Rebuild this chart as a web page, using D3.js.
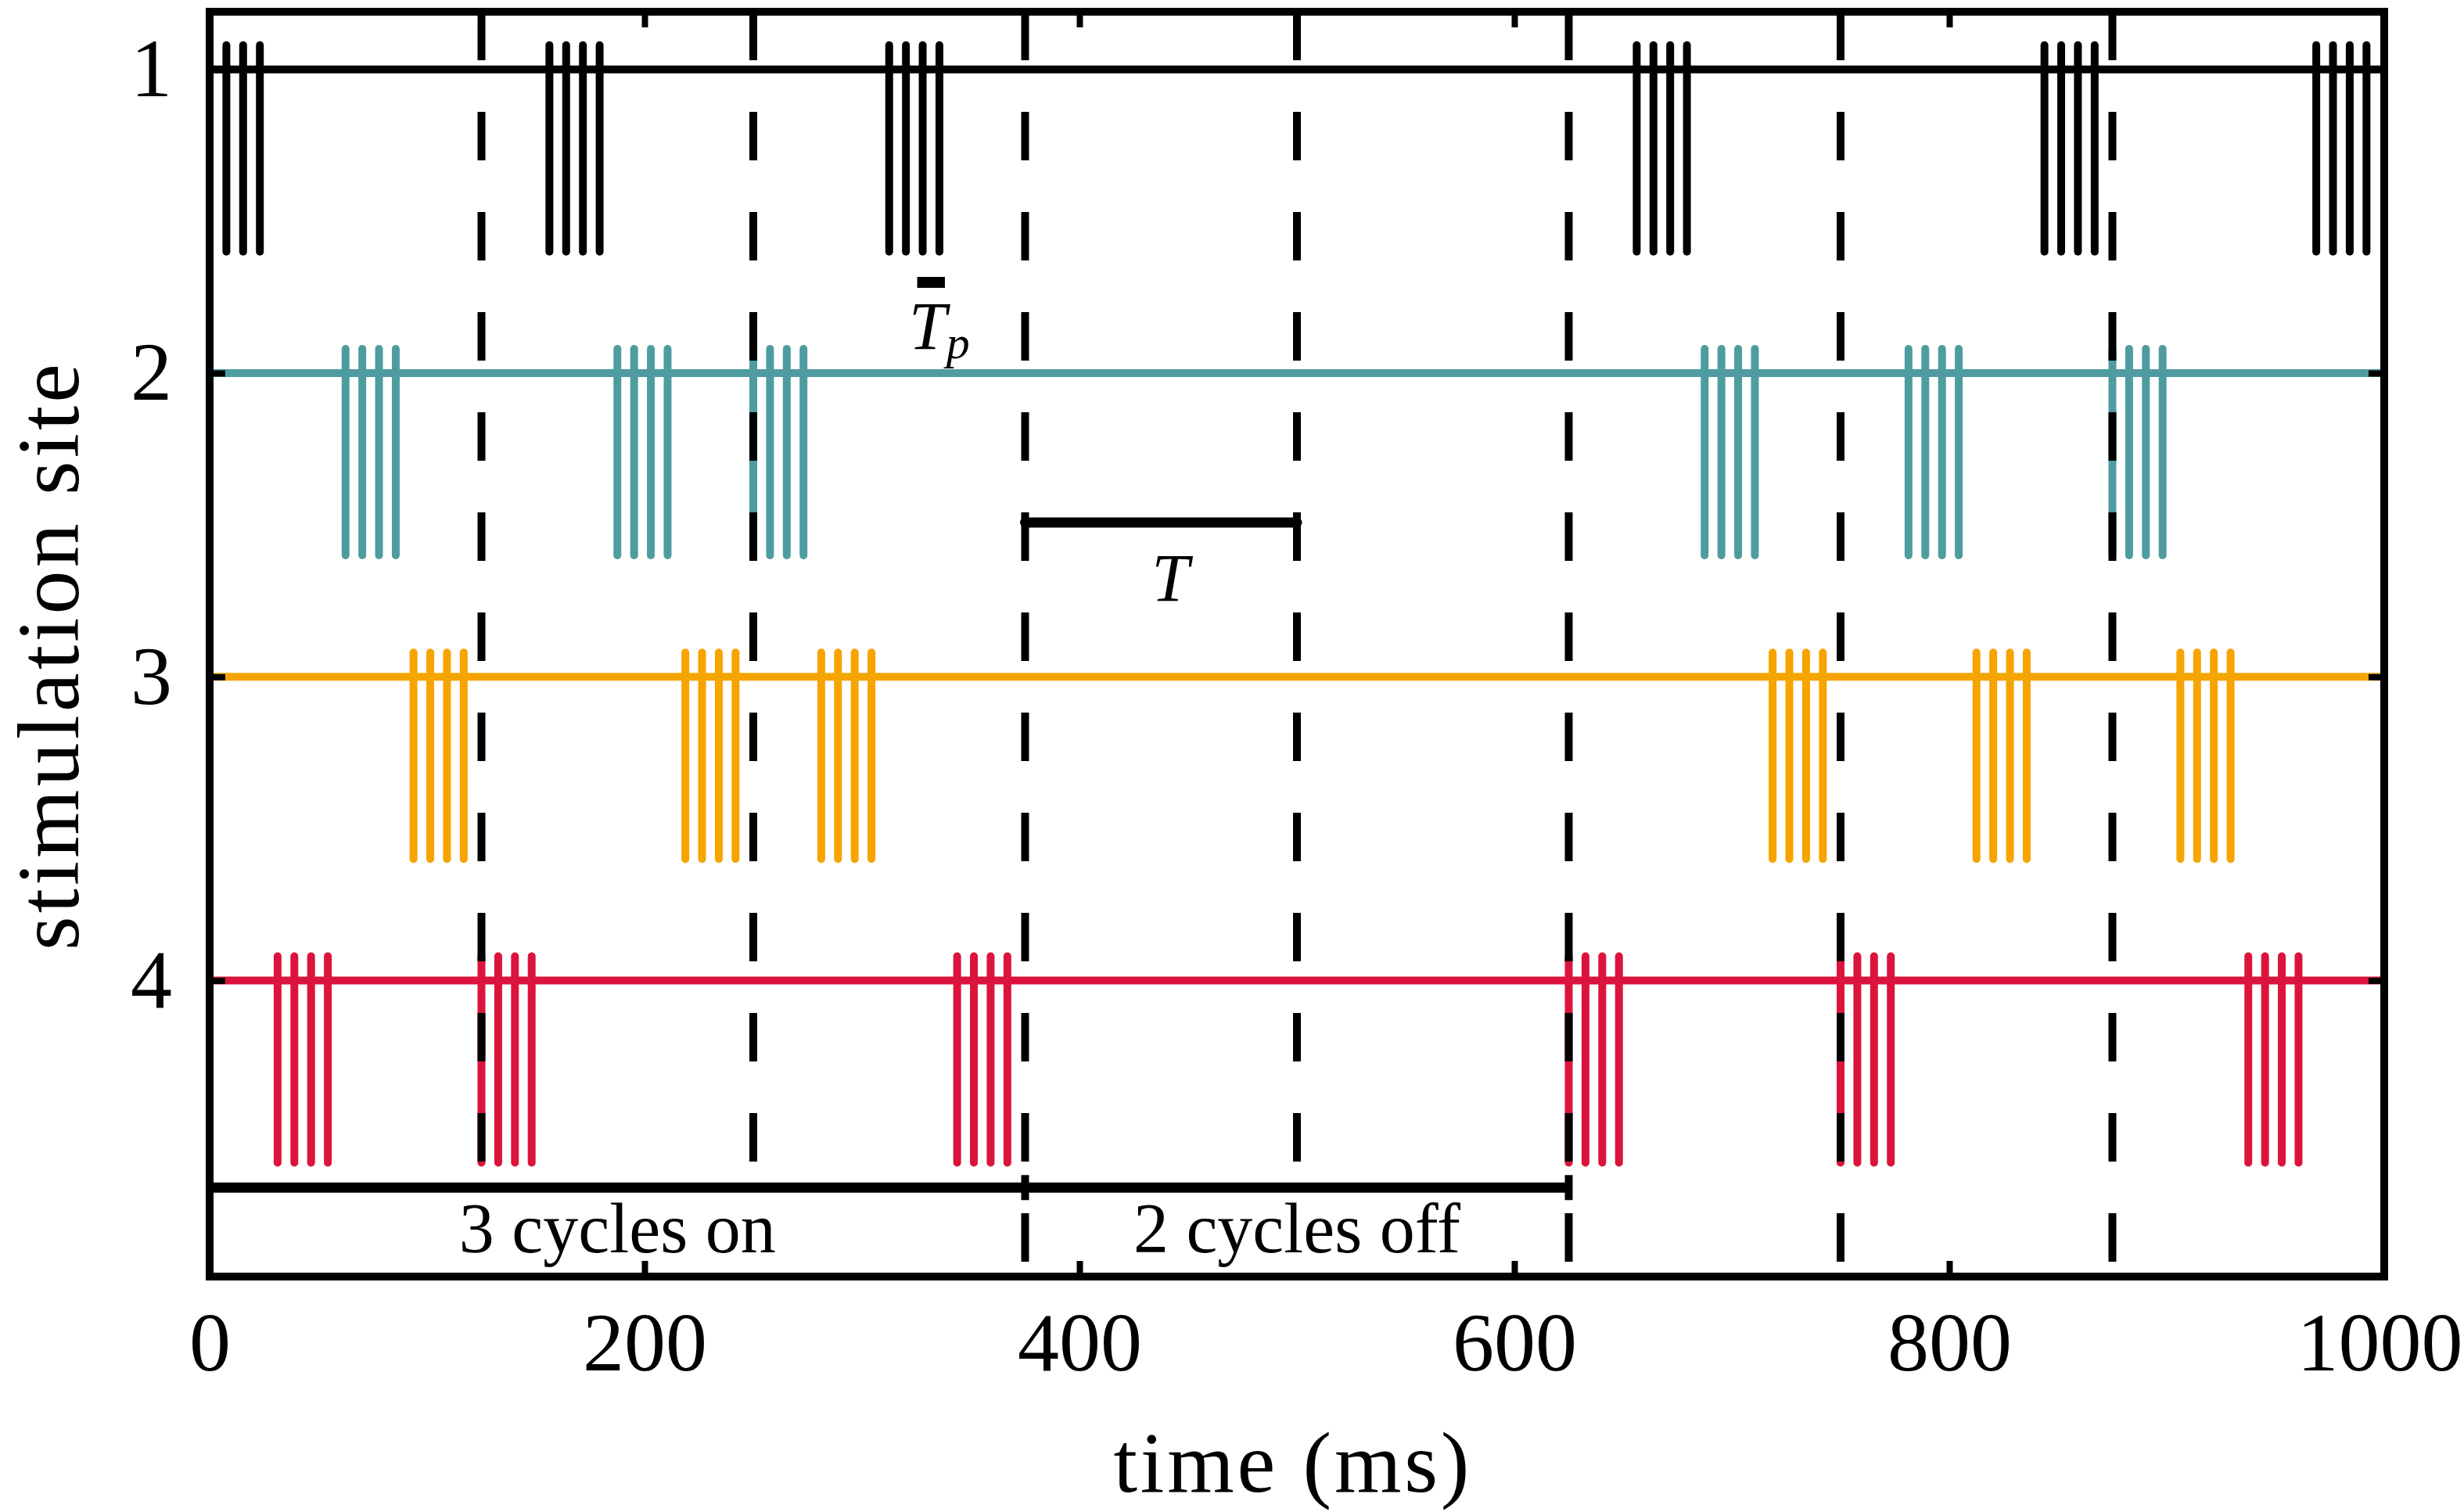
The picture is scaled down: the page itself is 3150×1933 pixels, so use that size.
<!DOCTYPE html>
<html>
<head>
<meta charset="utf-8">
<script src="https://cdn.jsdelivr.net/npm/d3@7"></script>
<style>
  body { margin: 0; background: #fff; }
  svg text { font-family: "Liberation Serif", "DejaVu Serif", serif; fill: #000; }
</style>
</head>
<body>
<script>
// stimulation pattern chart
const width = 3150;
const height = 1933;
const margin = {top: 15, right: 102, bottom: 301, left: 268};

// data
const sites = [1, 2, 3, 4];
const siteColors = ["#000000", "#4e9ca0", "#f5a400", "#dc143c"];
// burst onsets in ms, one array per site
const burstsSite1 = [0, 156.25, 312.5, 656.25, 843.75, 968.75];
const burstsSite2 = [62.5, 187.5, 250, 687.5, 781.25, 875];
const burstsSite3 = [93.75, 218.75, 281.25, 718.75, 812.5, 906.25];
const burstsSite4 = [31.25, 125, 343.75, 625, 750, 937.5];
const bursts = [burstsSite1, burstsSite2, burstsSite3, burstsSite4];
const pulseOffsets = [0, 7.7, 15.4, 23.1];   // 4 pulses per burst, Tp ~ 7.7 ms
const cycleEdges = [125, 250, 375, 500, 625, 750, 875];
const xTicks = [0, 200, 400, 600, 800, 1000];
const yTicks = [1, 2, 3, 4];
const onOffLabels = ["3 cycles on", "2 cycles off"];
const onOffSpans = [[0, 375], [375, 625]];
const periodSpan = [375, 500];

const pulseUp = 0.08;   // positive phase (site units)
const pulseDown = 0.6;  // negative phase (site units)

const x = d3.scaleLinear()
    .domain([0, 1000])
    .range([margin.left, width - margin.right]);

const y = d3.scaleLinear()
    .domain([0.81, 4.975])
    .range([margin.top, height - margin.bottom]);

const svg = d3.select("body").append("svg")
    .attr("width", width)
    .attr("height", height);

// baselines
svg.append("g")
  .selectAll("line")
  .data(sites)
  .join("line")
    .attr("x1", x(0))
    .attr("x2", x(1000))
    .attr("y1", d => y(d))
    .attr("y2", d => y(d))
    .attr("stroke", (d, i) => siteColors[i])
    .attr("stroke-width", 10);

// pulses
const pulses = [];
bursts.forEach((list, i) => {
    list.forEach(t0 => {
        pulseOffsets.forEach(o => pulses.push({site: sites[i], t: t0 + o, color: siteColors[i]}));
    });
});

svg.append("g")
  .selectAll("line")
  .data(pulses)
  .join("line")
    .attr("x1", d => x(d.t))
    .attr("x2", d => x(d.t))
    .attr("y1", d => y(d.site - pulseUp))
    .attr("y2", d => y(d.site + pulseDown))
    .attr("stroke", d => d.color)
    .attr("stroke-width", 10)
    .attr("stroke-linecap", "round");

// dashed cycle boundaries
svg.append("g")
  .selectAll("line")
  .data(cycleEdges)
  .join("line")
    .attr("x1", d => x(d))
    .attr("x2", d => x(d))
    .attr("y1", margin.top)
    .attr("y2", height - margin.bottom)
    .attr("stroke", "#000")
    .attr("stroke-width", 10)
    .attr("stroke-dasharray", "62,66");

// annotation bars
const barY = y(4.682);
const bars = svg.append("g").attr("stroke", "#000");
onOffSpans.forEach((s, i) => {
    bars.append("line")
        .attr("x1", x(s[0])).attr("x2", x(s[1]))
        .attr("y1", barY).attr("y2", barY)
        .attr("stroke-width", 13);
    bars.append("line")
        .attr("x1", x(s[1])).attr("x2", x(s[1]))
        .attr("y1", barY - 16).attr("y2", barY + 16)
        .attr("stroke-width", 10);
    const lab = svg.append("g");
    const txt = lab.append("text")
        .attr("x", x((s[0] + s[1]) / 2))
        .attr("y", 1601)
        .attr("text-anchor", "middle")
        .attr("font-size", 90)
        .text(onOffLabels[i]);
    const bb = txt.node().getBBox();
    lab.insert("rect", "text")
        .attr("x", bb.x - 12)
        .attr("y", barY + 12)
        .attr("width", bb.width + 24)
        .attr("height", height - margin.bottom - barY - 17)
        .attr("fill", "#fff");
});

// period T
const tY = y(2.492);
bars.append("line")
    .attr("x1", x(periodSpan[0])).attr("x2", x(periodSpan[1]))
    .attr("y1", tY).attr("y2", tY)
    .attr("stroke-width", 13)
    .attr("stroke-linecap", "round");
svg.append("text")
    .attr("x", x((periodSpan[0] + periodSpan[1]) / 2))
    .attr("dx", 12)
    .attr("y", 768)
    .attr("text-anchor", "middle")
    .attr("font-size", 86)
    .attr("font-style", "italic")
    .text("T");

// pulse period Tp
const tpY = y(1.701);
const tp0 = burstsSite1[2] + pulseOffsets[2];
const tp1 = burstsSite1[2] + pulseOffsets[3];
bars.append("line")
    .attr("x1", x(tp0)).attr("x2", x(tp1))
    .attr("y1", tpY).attr("y2", tpY)
    .attr("stroke-width", 14)
    .attr("stroke-linecap", "square");
const tpLabel = svg.append("text")
    .attr("x", 1162)
    .attr("y", 446)
    .attr("font-size", 86)
    .attr("font-style", "italic");
tpLabel.append("tspan").text("T");
tpLabel.append("tspan").attr("font-size", 60).attr("dy", 12).text("p");

// axes
const xAxis = g => g
    .attr("transform", `translate(0,${height - margin.bottom})`)
    .call(d3.axisBottom(x).tickValues(xTicks).tickFormat(d3.format("d"))
        .tickSize(-20).tickPadding(45).tickSizeOuter(0))
    .call(g => g.select(".domain").remove())
    .call(g => g.selectAll(".tick:last-of-type text").attr("dx", -6));

const xAxisTop = g => g
    .attr("transform", `translate(0,${margin.top})`)
    .call(d3.axisTop(x).tickValues(xTicks).tickSize(-20).tickFormat("").tickSizeOuter(0))
    .call(g => g.select(".domain").remove());

const yAxis = g => g
    .attr("transform", `translate(${margin.left},0)`)
    .call(d3.axisLeft(y).tickValues(yTicks).tickFormat(d3.format("d"))
        .tickSize(-20).tickPadding(48).tickSizeOuter(0))
    .call(g => g.select(".domain").remove());

const yAxisRight = g => g
    .attr("transform", `translate(${width - margin.right},0)`)
    .call(d3.axisRight(y).tickValues(yTicks).tickSize(-20).tickFormat("").tickSizeOuter(0))
    .call(g => g.select(".domain").remove());

[xAxis, xAxisTop, yAxis, yAxisRight].forEach(a => {
    svg.append("g").call(a)
        .attr("font-family", null)
        .attr("font-size", 106)
        .call(g => g.selectAll("line").attr("stroke", "#000").attr("stroke-width", 8))
        .call(g => g.selectAll("text").attr("fill", "#000"));
});

// frame
svg.append("rect")
    .attr("x", margin.left)
    .attr("y", margin.top)
    .attr("width", width - margin.left - margin.right)
    .attr("height", height - margin.top - margin.bottom)
    .attr("fill", "none")
    .attr("stroke", "#000")
    .attr("stroke-width", 10);

// axis titles
svg.append("text")
    .attr("x", 1651)
    .attr("y", 1907)
    .attr("text-anchor", "middle")
    .attr("font-size", 110)
    .attr("textLength", 455)
    .attr("lengthAdjust", "spacing")
    .text("time (ms)");

svg.append("text")
    .attr("transform", "translate(100,840) rotate(-90)")
    .attr("text-anchor", "middle")
    .attr("font-size", 112)
    .attr("textLength", 750)
    .attr("lengthAdjust", "spacing")
    .text("stimulation site");
</script>
</body>
</html>
